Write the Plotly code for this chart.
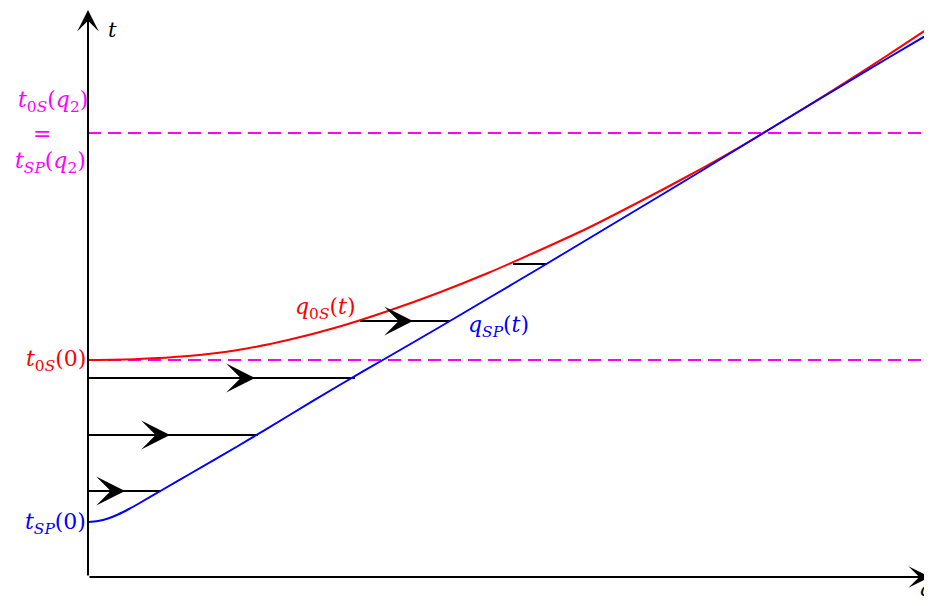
import plotly.graph_objects as go

# curve q_0S(t): points (q, t)
red_q = [0.0, 0.5, 1.0, 1.5, 2.0, 2.5, 3.0, 3.5, 4.0, 4.5, 5.0, 5.5, 6.0, 6.5, 7.0, 7.5,
         8.0, 8.44]
red_t = [2.17, 2.18, 2.21, 2.27, 2.37, 2.50, 2.66, 2.84, 3.04, 3.26, 3.49, 3.745, 4.01,
         4.29, 4.59, 4.90, 5.22, 5.51]

# curve q_SP(t)
blue_q = [0.0, 0.1, 0.2, 0.3, 0.4, 0.5, 0.75, 1.0, 1.5, 2.0, 2.5, 3.0, 3.5, 4.0, 4.5,
          5.0, 5.5, 6.0, 6.5, 7.0, 7.5, 8.0, 8.44]
blue_t = [0.55, 0.56, 0.585, 0.625, 0.675, 0.73, 0.875, 1.02, 1.31, 1.61, 1.91, 2.20,
          2.49, 2.785, 3.08, 3.38, 3.68, 3.98, 4.285, 4.59, 4.89, 5.19, 5.45]

# horizontal flow lines: start q, end q, arrow tip q (None = no head), level t
flow_start = [0.0, 0.0, 0.0, 2.72, 4.25]
flow_end = [0.73, 1.70, 2.67, 3.62, 4.59]
flow_tip = [0.37, 0.82, 1.67, 3.25, None]
flow_t = [0.86, 1.42, 1.99, 2.56, 3.13]

# dashed levels t_0S(0) and t_0S(q2) = t_SP(q2)
level_t = [2.17, 4.44]

q_max = 8.44
t_max = 5.67

RED = "#ff0000"
BLUE = "#0000ff"
MAGENTA = "#ff00ff"
FONT = "DejaVu Serif"

fig = go.Figure()

for t in level_t:
    fig.add_trace(go.Scatter(x=[0, q_max], y=[t, t], mode="lines",
                             line=dict(color=MAGENTA, width=2, dash="13px,7px"),
                             hoverinfo="skip"))

for i in range(len(flow_t)):
    fig.add_trace(go.Scatter(x=[flow_start[i], flow_end[i]], y=[flow_t[i], flow_t[i]],
                             mode="lines", line=dict(color="black", width=2),
                             hoverinfo="skip"))

fig.add_trace(go.Scatter(x=red_q, y=red_t, mode="lines",
                         line=dict(color=RED, width=2, shape="spline", smoothing=0.8)))
fig.add_trace(go.Scatter(x=blue_q, y=blue_t, mode="lines",
                         line=dict(color=BLUE, width=2, shape="spline", smoothing=0.8)))

annotations = []

# arrow heads on the flow lines
for i in range(len(flow_t)):
    if flow_tip[i] is None:
        continue
    annotations.append(dict(x=flow_tip[i], y=flow_t[i], ax=flow_start[i], ay=flow_t[i],
                            xref="x", yref="y", axref="x", ayref="y", text="",
                            showarrow=True, arrowhead=3, arrowsize=2.4, arrowwidth=2,
                            arrowcolor="black", standoff=0))

# axes
annotations.append(dict(x=q_max - 0.02, y=0, ax=0, ay=0, xref="x", yref="y",
                        axref="x", ayref="y", text="", showarrow=True, arrowhead=3,
                        arrowsize=1.8, arrowwidth=2, arrowcolor="black"))
annotations.append(dict(x=0, y=t_max, ax=0, ay=0, xref="x", yref="y",
                        axref="x", ayref="y", text="", showarrow=True, arrowhead=3,
                        arrowsize=1.8, arrowwidth=2, arrowcolor="black"))


def label(text, q, t, color, xanchor="center", size=22):
    annotations.append(dict(x=q, y=t, xref="x", yref="y", text=text, showarrow=False,
                            xanchor=xanchor, yanchor="middle", borderpad=0,
                            font=dict(family=FONT, size=size, color=color)))


label("<i>t</i>", 0.24, 5.47, "black", size=21)
label("<i>q</i>", 8.37, -0.12, "black", size=21)
label("<i>t</i><sub>0<i>S</i></sub>(0)", -0.01, 2.17, RED, "right")
label("<i>t</i><sub><i>SP</i></sub>(0)", -0.01, 0.54, BLUE, "right")
label("<i>t</i><sub>0<i>S</i></sub>(<i>q</i><sub>2</sub>)", -0.35, 4.76, MAGENTA)
label("=", -0.46, 4.44, MAGENTA)
label("<i>t</i><sub><i>SP</i></sub>(<i>q</i><sub>2</sub>)", -0.38, 4.15, MAGENTA)
label("<i>q</i><sub>0<i>S</i></sub>(<i>t</i>)", 2.37, 2.69, RED)
label("<i>q</i><sub><i>SP</i></sub>(<i>t</i>)", 4.10, 2.51, BLUE)

# the page body has an 8px margin, so the figure is 8px smaller than the window
fig.update_layout(
    width=924, height=598,
    margin=dict(l=0, r=0, t=0, b=0),
    plot_bgcolor="white", paper_bgcolor="white",
    showlegend=False,
    annotations=annotations,
    xaxis=dict(range=[-0.80, 8.44], visible=False),
    yaxis=dict(range=[-0.29, 5.69], visible=False),
)

fig.write_html("out.html")
